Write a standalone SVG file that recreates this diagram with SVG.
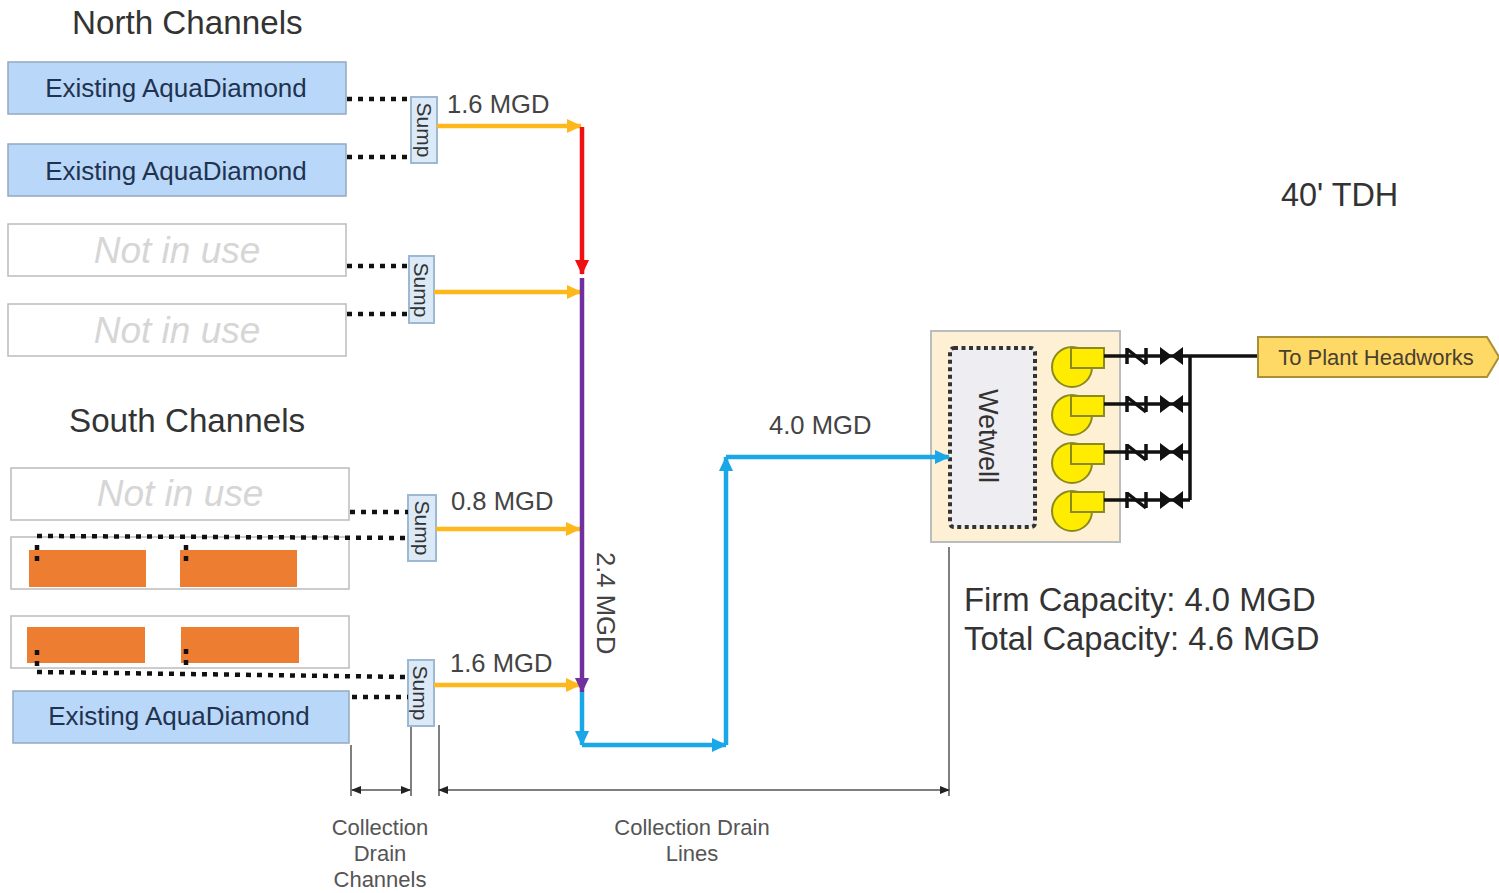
<svg xmlns="http://www.w3.org/2000/svg" width="1499" height="893" viewBox="0 0 1499 893">
<style>
text{font-family:"Liberation Sans",Arial,sans-serif;fill:#333}
.ad{fill:#b9d7f8;stroke:#94a9c0;stroke-width:1.5}
.nu{fill:#fff;stroke:#bcbcbc;stroke-width:1.5}
.adt{font-size:26px;fill:#1f3350;text-anchor:middle}
.nut{font-size:37px;font-style:italic;fill:#d6d6d6;text-anchor:middle}
.org{fill:#ed7d31}
.sump{fill:#dceaf7;stroke:#9db8d2;stroke-width:2}
.st{font-size:21px;fill:#333;text-anchor:middle}
.hd{font-size:33.2px;fill:#333}
.big{font-size:32.8px;fill:#333}
.mg{font-size:25.6px;fill:#444}
.sm{font-size:22px;fill:#555;text-anchor:middle}
.dot{fill:none;stroke:#111;stroke-width:4.5;stroke-dasharray:5 6}
.y{stroke:#ffb81c;stroke-width:4.5;fill:none}
.b{stroke:#1aa7e8;stroke-width:4.5;fill:none}
.k{stroke:#111;stroke-width:3.5;fill:none}
.dim{stroke:#555;stroke-width:1.5;fill:none}
.pump{fill:#ffec00;stroke:#8a8a20;stroke-width:2}
</style>
<defs>
<marker id="ay" markerWidth="15" markerHeight="14" refX="14" refY="7" orient="auto" markerUnits="userSpaceOnUse"><path d="M0 0L15 7L0 14z" fill="#ffb81c"/></marker>
<marker id="ab" markerWidth="15" markerHeight="14" refX="14" refY="7" orient="auto" markerUnits="userSpaceOnUse"><path d="M0 0L15 7L0 14z" fill="#1aa7e8"/></marker>
<marker id="ar" markerWidth="15" markerHeight="14" refX="14" refY="7" orient="auto" markerUnits="userSpaceOnUse"><path d="M0 0L15 7L0 14z" fill="#f01010"/></marker>
<marker id="ap" markerWidth="15" markerHeight="14" refX="14" refY="7" orient="auto" markerUnits="userSpaceOnUse"><path d="M0 0L15 7L0 14z" fill="#7030a0"/></marker>
<marker id="ad" markerWidth="10" markerHeight="8" refX="9" refY="4" orient="auto-start-reverse" markerUnits="userSpaceOnUse"><path d="M0 0L10 4L0 8z" fill="#222"/></marker>
<g id="pump">
<circle class="pump" cx="1072" cy="367" r="20"/>
<rect class="pump" x="1071" y="348" width="33" height="20"/>
<path class="k" d="M1104 356H1190"/>
<path d="M1127 348V364M1146 348V364M1127 349L1146 364" fill="none" stroke="#111" stroke-width="3.5"/>
<path d="M1160 347L1172 356L1160 365zM1183 347L1171 356L1183 365z" fill="#111"/>
</g>
</defs>
<rect width="1499" height="893" fill="#fff"/>
<g id="labels">
<text class="hd" x="72" y="34">North Channels</text>
<text class="hd" x="69" y="432">South Channels</text>
<text class="big" x="1281" y="206" style="font-size:32.4px">40' TDH</text>
<text class="big" x="964" y="611">Firm Capacity: 4.0 MGD</text>
<text class="big" x="964" y="650">Total Capacity: 4.6 MGD</text>
<text class="mg" x="447" y="113">1.6 MGD</text>
<text class="mg" x="451" y="510">0.8 MGD</text>
<text class="mg" x="450" y="672">1.6 MGD</text>
<text class="mg" x="769" y="434">4.0 MGD</text>
<text class="mg" transform="translate(597 552) rotate(90)">2.4 MGD</text>
<text class="sm" x="380" y="835">Collection</text><text class="sm" x="380" y="861">Drain</text><text class="sm" x="380" y="887">Channels</text>
<text class="sm" x="692" y="835">Collection Drain</text><text class="sm" x="692" y="861">Lines</text>
</g>
<g id="channel-n1"><rect class="ad" x="8" y="62" width="338" height="52"/><text class="adt" x="176" y="97">Existing AquaDiamond</text></g>
<g id="channel-n2"><rect class="ad" x="8" y="144" width="338" height="52"/><text class="adt" x="176" y="180">Existing AquaDiamond</text></g>
<g id="channel-n3"><rect class="nu" x="8" y="224" width="338" height="52"/><text class="nut" x="177" y="263">Not in use</text></g>
<g id="channel-n4"><rect class="nu" x="8" y="304" width="338" height="52"/><text class="nut" x="177" y="343">Not in use</text></g>
<g id="channel-s1"><rect class="nu" x="11" y="468" width="338" height="52"/><text class="nut" x="180" y="506">Not in use</text></g>
<g id="channel-s2"><rect class="nu" x="11" y="537" width="338" height="52"/><rect class="org" x="29" y="550" width="117" height="37"/><rect class="org" x="180" y="550" width="117" height="37"/></g>
<g id="channel-s3"><rect class="nu" x="11" y="616" width="338" height="52"/><rect class="org" x="27" y="627" width="118" height="36"/><rect class="org" x="181" y="627" width="118" height="36"/></g>
<g id="channel-s4"><rect class="ad" x="13" y="691" width="336" height="52"/><text class="adt" x="179" y="725">Existing AquaDiamond</text></g>
<g id="sump-1"><rect class="sump" x="411" y="97" width="26" height="66"/><text class="st" transform="translate(417 130) rotate(90)">Sump</text></g>
<g id="sump-2"><rect class="sump" x="409" y="256" width="25" height="67"/><text class="st" transform="translate(414 290) rotate(90)">Sump</text></g>
<g id="sump-3"><rect class="sump" x="408" y="495" width="28" height="66"/><text class="st" transform="translate(415 528) rotate(90)">Sump</text></g>
<g id="sump-4"><rect class="sump" x="408" y="660" width="26" height="66"/><text class="st" transform="translate(413 693) rotate(90)">Sump</text></g>
<g id="pump-station">
<rect x="931" y="331" width="189" height="211" fill="#fdf0d5" stroke="#b9bdbd" stroke-width="2"/>
<rect x="950" y="348" width="85" height="179" rx="4" fill="#eeeef2" stroke="#333" stroke-width="4" stroke-dasharray="4 3.5"/>
<text transform="translate(979 389) rotate(90)" font-size="27" style="fill:#333">Wetwell</text>
<use href="#pump"/><use href="#pump" y="48"/><use href="#pump" y="96"/><use href="#pump" y="144"/>
<path class="k" d="M1190 356V500M1190 356H1258"/>
</g>
<g id="headworks"><path d="M1258 337H1487L1499 357L1487 377H1258z" fill="#ffd966" stroke="#a98f35" stroke-width="2"/><text x="1376" y="365" font-size="22" text-anchor="middle" style="fill:#4a4030">To Plant Headworks</text></g>
<g id="connectors">
<path class="dot" d="M347 99H408M347 157H408M347 266H408M347 314H408M350 512H408M37 536L408 538M37 545V561M186 545V561M37 650V666M186 649V665M37 672L408 677M352 697H408"/>
<path class="y" d="M437 126H581" marker-end="url(#ay)"/>
<path class="y" d="M434 292H581" marker-end="url(#ay)"/>
<path class="y" d="M436 529H580" marker-end="url(#ay)"/>
<path class="y" d="M434 685H580" marker-end="url(#ay)"/>
<path d="M582 127V274" stroke="#f01010" stroke-width="4.5" fill="none" marker-end="url(#ar)"/>
<path d="M582 278V692" stroke="#7030a0" stroke-width="4.5" fill="none" marker-end="url(#ap)"/>
<path class="b" d="M582 692V745" marker-end="url(#ab)"/>
<path class="b" d="M582 745H726" marker-end="url(#ab)"/>
<path class="b" d="M726 745V457" marker-end="url(#ab)"/>
<path class="b" d="M726 457H949" marker-end="url(#ab)"/>
<path class="dim" d="M351 745V796M411 727V796M439 725V796M949 547V796"/>
<path class="dim" d="M352 790H410" marker-start="url(#ad)" marker-end="url(#ad)"/>
<path class="dim" d="M439 790H949" marker-start="url(#ad)" marker-end="url(#ad)"/>
</g>
</svg>
